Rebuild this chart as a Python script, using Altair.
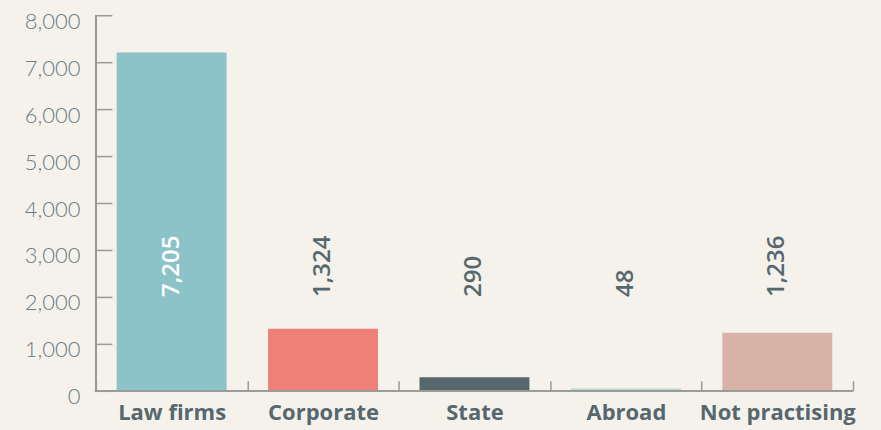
import altair as alt
import pandas as pd

categories = ["Law firms", "Corporate", "State", "Abroad", "Not practising"]
values = [7205, 1324, 290, 48, 1236]
bar_colors = ["#8CC3C8", "#EE8079", "#56686E", "#B5D9CC", "#D8B2A7"]
y_ticks = [0, 1000, 2000, 3000, 4000, 5000, 6000, 7000, 8000]
label_anchor = 2000

df = pd.DataFrame({"category": categories, "value": values})
df["label"] = df["value"].map(lambda v: f"{v:,}")

W, H = 758, 376
TXT = "#56686E"
AX = "#9A9A96"
BG = "#F5F2EC"

xenc = alt.X("category:N", sort=categories, title=None,
             scale=alt.Scale(paddingInner=0, paddingOuter=0),
             axis=alt.Axis(labelAngle=0, offset=-10, tickSize=10, tickBand="extent",
                           domain=False, tickColor=AX, tickWidth=1.5,
                           labelFont="Open Sans", labelFontWeight="bold", labelFontSize=22,
                           labelColor=TXT, labelPadding=12))
yscale = alt.Scale(domain=[0, 8000], nice=False)

bars = alt.Chart(df).mark_bar(width=alt.RelativeBandSize(0.726)).encode(
    x=xenc,
    y=alt.Y("value:Q", scale=yscale, title=None,
            axis=alt.Axis(values=y_ticks, format=",.0f", offset=-16, tickSize=16, domain=False,
                          grid=False, tickColor=AX, tickWidth=1.5,
                          labelFont="Lato", labelFontWeight=300, labelFontSize=22,
                          labelColor="#6B7C82", labelPadding=16, labelOffset=6)),
    color=alt.Color("category:N", scale=alt.Scale(domain=categories, range=bar_colors), legend=None),
)

labels = alt.Chart(df).mark_text(angle=270, align="left", baseline="middle",
                                 font="Open Sans", fontSize=24, fontWeight=600).encode(
    x=alt.X("category:N", sort=categories),
    y=alt.datum(label_anchor),
    text="label:N",
    color=alt.condition(alt.datum.value > 4000, alt.value("white"), alt.value(TXT)),
)

ydomain = alt.Chart(df).mark_rule(color=AX, strokeWidth=1.5).encode(
    x=alt.value(0), y=alt.datum(0), y2=alt.datum(8000))
xdomain = alt.Chart(df).mark_rule(color=AX, strokeWidth=1.5).encode(
    y=alt.datum(0), x=alt.value(-1), x2=alt.value(W))

chart = alt.layer(bars, labels, ydomain, xdomain).properties(
    width=W, height=H,
    autosize=alt.AutoSizeParams(type="none"),
    padding={"left": 88, "top": 7, "right": 20, "bottom": 38},
    background=BG,
).configure_view(stroke=None)

chart.save("out.html", embed_options={"renderer": "svg", "actions": False})

with open("out.html", "r", encoding="utf-8") as f:
    html = f.read()
html = html.replace("<head>", "<head><style>html,body{background:%s;}</style>" % BG, 1)
with open("out.html", "w", encoding="utf-8") as f:
    f.write(html)
